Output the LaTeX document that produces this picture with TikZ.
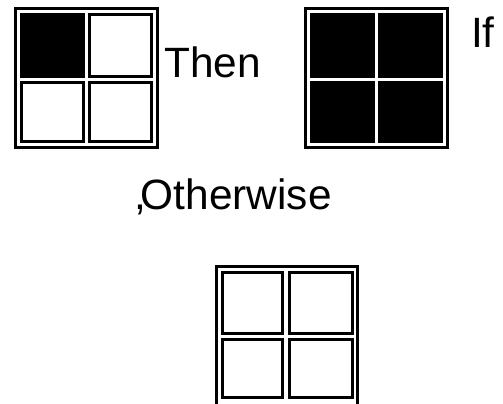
\documentclass[tikz,border=0pt]{standalone}
\usepackage{fontspec}
\setmainfont{Liberation Sans}
\begin{document}
\begin{tikzpicture}[x=1pt,y=-1pt,
  frame/.style={draw=black,line width=3pt},
  cellon/.style={fill=black},
  celloff/.style={draw=black,line width=3pt,fill=white},
  label/.style={anchor=base west,inner sep=0pt,font=\fontsize{42.4}{50}\selectfont}]
\useasboundingbox (0,0) rectangle (503,404);
\clip (0,0) rectangle (503,404);
% top-left grid
\draw[frame] (15.5,8.2) rectangle (157.5,147.2);
\fill[cellon] (20,12.7) rectangle (85,78);
\draw[celloff] (89.5,14.2) rectangle (151.5,76.5);
\draw[celloff] (21.5,82.5) rectangle (83.5,141.2);
\draw[celloff] (89.5,82.5) rectangle (151.5,141.2);
% top-right grid
\draw[frame] (305.5,8.2) rectangle (447.5,147.2);
\fill[cellon] (310,12.7) rectangle (375,78);
\fill[cellon] (378,12.7) rectangle (443,78);
\fill[cellon] (310,81) rectangle (375,142.7);
\fill[cellon] (378,81) rectangle (443,142.7);
% bottom grid
\draw[frame] (216.5,266.5) rectangle (357.8,405.5);
\draw[celloff] (222.5,272.5) rectangle (282.8,333.8);
\draw[celloff] (289.5,272.5) rectangle (352.5,333.8);
\draw[celloff] (222.5,339.8) rectangle (282.8,397.5);
\draw[celloff] (289.5,339.8) rectangle (352.5,397.5);
% texts
\node[label] (then) at (164,77.7) {Then};
\node[label] (if) at (471,47.7) {If};
\node[label] (otherwise) at (133.9,209.3) {,\kern-5pt Otherwise};
\end{tikzpicture}
\end{document}
